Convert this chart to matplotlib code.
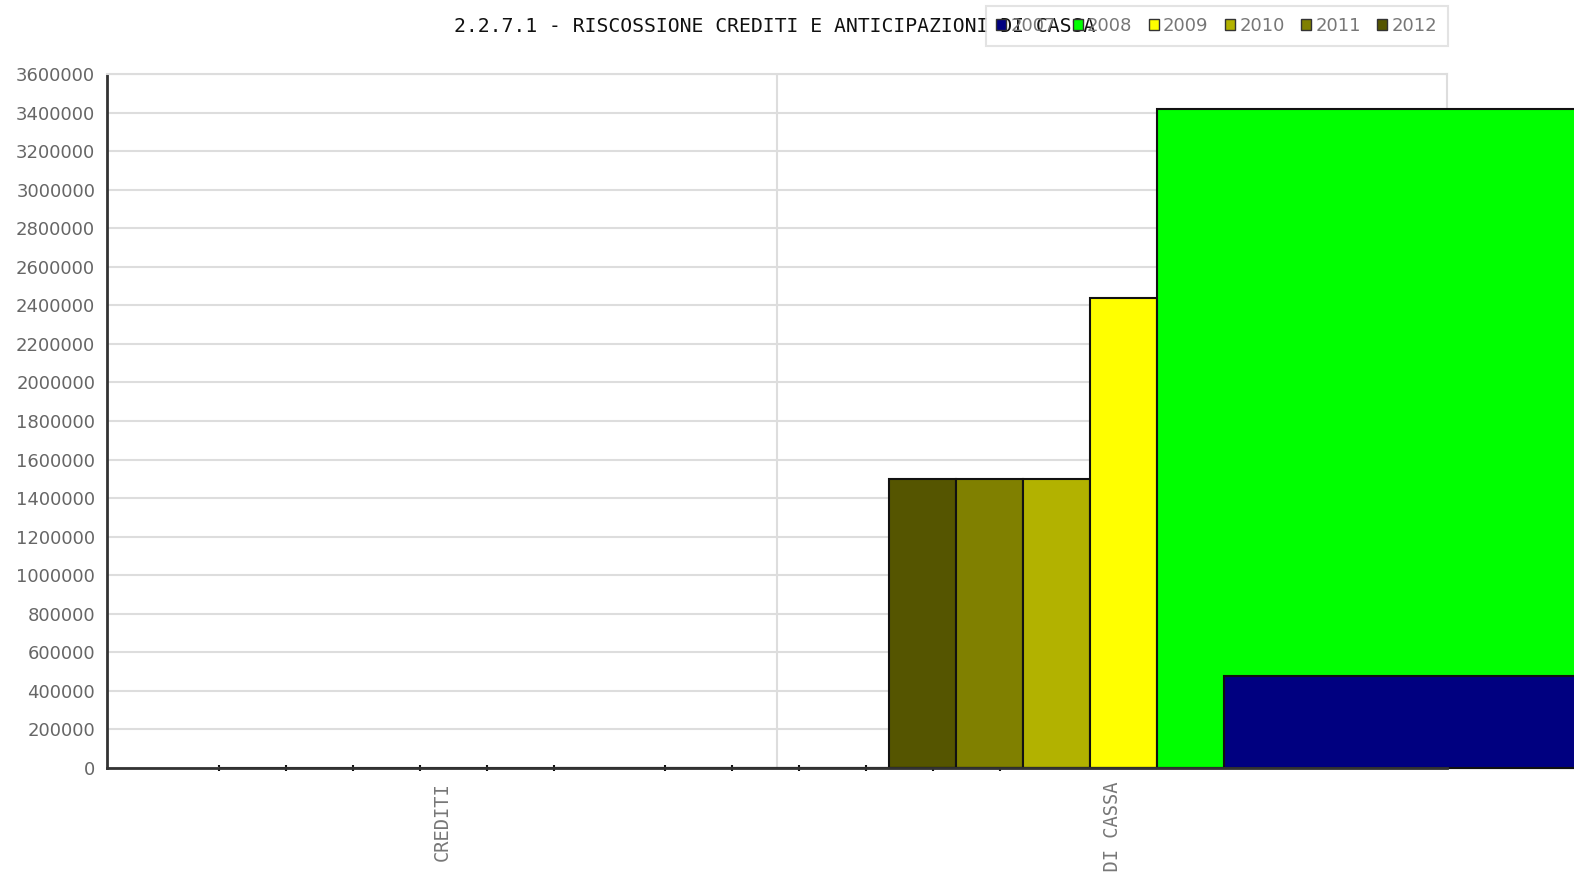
import matplotlib
matplotlib.use("Agg")
import matplotlib.pyplot as plt
from matplotlib.patches import Patch
import numpy as np

categories = ["CREDITI", "ANTICIPAZIONI DI CASSA"]
years = ["2012", "2011", "2010", "2009", "2008", "2007"]
colors = ["#555500", "#808000", "#b2b200", "#ffff00", "#00ff00", "#000080"]
# values per year, one per category
values = {
    "2012": [0, 1500000],
    "2011": [0, 1500000],
    "2010": [0, 1500000],
    "2009": [0, 2440000],
    "2008": [0, 3420000],
    "2007": [0, 477000],
}
# the source chart draws the last two bars far too wide
widths = [0.1, 0.1, 0.1, 0.1, 1.0, 1.0]
bar_step = 0.1
first_offset = -1 / 3
minor_ticks = [-0.333, -0.233, -0.133, -0.033, 0.067, 0.167,
               0.333, 0.433, 0.533, 0.633, 0.733, 0.833]

fig = plt.figure(figsize=(15.74, 8.82), dpi=100)
ax = fig.add_axes([107 / 1574, 1 - 768 / 882, (1447 - 107) / 1574, (768 - 74) / 882])

x = np.arange(len(categories))
for i, yr in enumerate(years):
    ax.bar(x + first_offset + i * bar_step, values[yr], width=widths[i], align="edge",
           color=colors[i], edgecolor="#111111", linewidth=1.5, clip_on=False, zorder=3 + i)

ax.set_xlim(-0.5, 1.5)
ax.set_ylim(0, 3600000)
ax.set_yticks(np.arange(0, 3600001, 200000))
ax.set_yticklabels([str(v) for v in range(0, 3600001, 200000)], color="#666666",
                   fontsize=13, family="DejaVu Sans")
ax.tick_params(axis="y", length=0, pad=8.5)
ax.grid(axis="y", color="#dddddd", linewidth=1.5, zorder=0)
ax.axvline(0.5, color="#dddddd", linewidth=1.5, zorder=0)
ax.set_axisbelow(True)

ax.set_xticks(x)
ax.set_xticklabels(categories, rotation=90, va="top", ha="center", color="#777777",
                   fontsize=13.5, family="DejaVu Sans Mono")
ax.tick_params(axis="x", length=0, pad=10)
ax.set_xticks(minor_ticks, minor=True)
ax.tick_params(axis="x", which="minor", length=5, width=1.5, direction="inout", color="#111111")

for side in ["top", "right"]:
    ax.spines[side].set_color("#dddddd")
    ax.spines[side].set_linewidth(1.5)
ax.spines["left"].set_color("#333333")
ax.spines["left"].set_linewidth(2)
ax.spines["bottom"].set_color("#333333")
ax.spines["bottom"].set_linewidth(2)
ax.spines["bottom"].set_zorder(10)

fig.text(775 / 1574, 1 - 27 / 882, "2.2.7.1 - RISCOSSIONE CREDITI E ANTICIPAZIONI DI CASSA",
         ha="center", va="center", fontsize=14.2, family="DejaVu Sans Mono", color="#111111", zorder=5)

handles = [Patch(facecolor=colors[i], edgecolor="#333333", label=years[i])
           for i in reversed(range(len(years)))]
leg = fig.legend(handles=handles, ncol=6, loc="upper right",
                 bbox_to_anchor=(1448 / 1574, 1 - 6 / 882), fontsize=13,
                 handlelength=0.55, handleheight=0.55, handletextpad=0.25,
                 columnspacing=0.9, borderpad=0.6, frameon=True, fancybox=False,
                 borderaxespad=0)
leg.get_frame().set_facecolor("none")
leg.get_frame().set_edgecolor("#dddddd")
leg.get_frame().set_linewidth(1.5)
for t in leg.get_texts():
    t.set_color("#777777")

fig.savefig("out.png", dpi=100)
